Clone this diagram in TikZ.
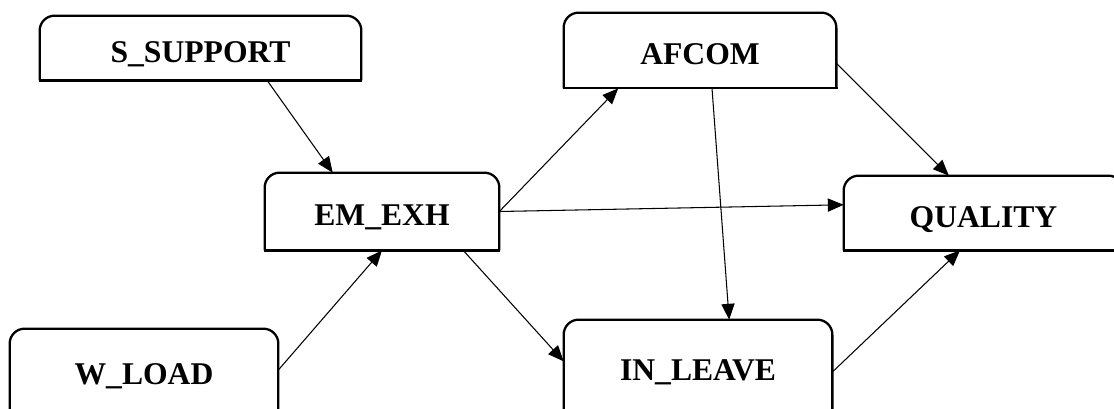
\documentclass[tikz,border=0pt]{standalone}
\usepackage{fontspec}
\setmainfont{Liberation Serif}
\usetikzlibrary{arrows.meta,calc}

\tikzset{
  var/.style={inner sep=0pt, text height=16pt, text depth=0pt, font=\bfseries\fontsize{18}{20}\selectfont},
  boxline/.style={line width=1.3pt},
  arr/.style={line width=0.6pt, -{Triangle[length=9pt,width=7.5pt]}}
}

\begin{document}
\begin{tikzpicture}
\useasboundingbox (0,0) rectangle (22.28,-8.16);
\clip (0,0) rectangle (22.28,-8.16);
\node[var, minimum width=6.42cm, minimum height=1.28cm] (ssup) at (4.01,-0.96) {S\_SUPPORT};
\node[var, minimum width=5.44cm, minimum height=1.5cm] (afcom) at (14.0,-1.01) {AFCOM};
\node[var, minimum width=4.68cm, minimum height=1.54cm] (emexh) at (7.64,-4.23) {EM\_EXH};
\node[var, minimum width=5.58cm, minimum height=1.48cm] (quality) at (19.67,-4.26) {QUALITY};
\node[var, minimum width=5.36cm, minimum height=1.64cm] (wload) at (2.88,-7.4) {W\_LOAD};
\node[var, minimum width=5.36cm, minimum height=1.84cm] (inleave) at (13.96,-7.32) {IN\_LEAVE};
% boxes: round top, square bottom
\foreach \n in {ssup,afcom,emexh,quality,wload,inleave}{
  \draw[boxline, rounded corners=3mm] (\n.south west) -- (\n.north west) -- (\n.north east) -- (\n.south east);
  \draw[boxline, line cap=rect] (\n.south west) -- (\n.south east);
}
% paths
\draw[arr] ($(ssup.south west)!0.707!(ssup.south east)$) -- ($(emexh.north west)!0.29!(emexh.north east)$);
\draw[arr] (wload.east) -- (emexh.south);
\draw[arr] (emexh.east) -- ($(afcom.south west)!0.2!(afcom.south east)$);
\draw[arr] (emexh.east) -- ($(quality.south west)!0.61!(quality.north west)$);
\draw[arr] ($(emexh.south west)!0.846!(emexh.south east)$) -- ($(inleave.north west)!0.45!(inleave.south west)$);
\draw[arr] ($(afcom.south west)!0.544!(afcom.south east)$) -- ($(inleave.north west)!0.616!(inleave.north east)$);
\draw[arr] ($(afcom.north east)!0.667!(afcom.south east)$) -- ($(quality.north west)!0.376!(quality.north east)$);
\draw[arr] ($(inleave.north east)!0.565!(inleave.south east)$) -- ($(quality.south west)!0.416!(quality.south east)$);
\end{tikzpicture}
\end{document}
